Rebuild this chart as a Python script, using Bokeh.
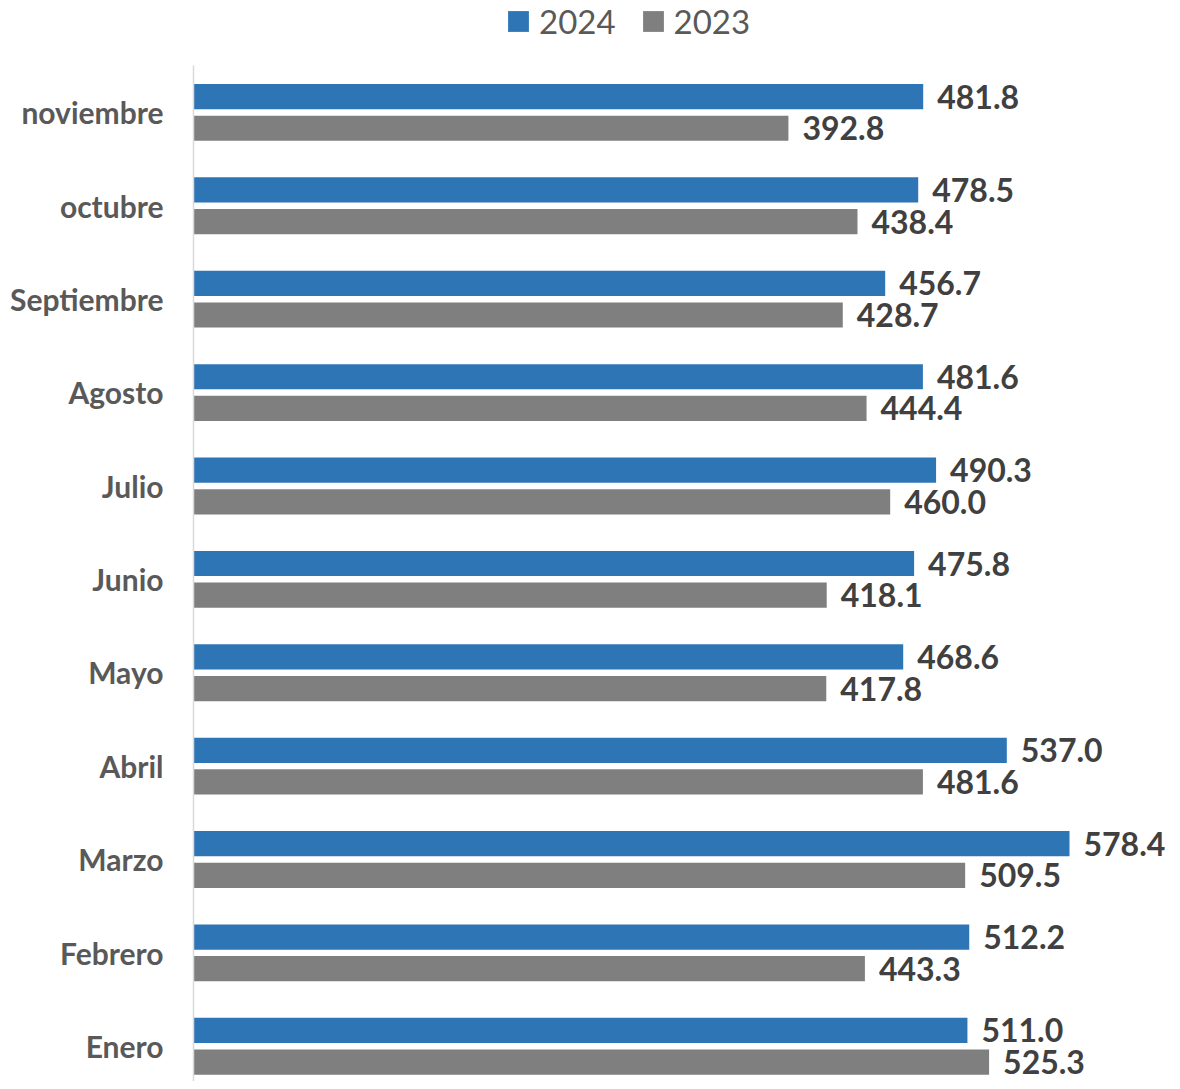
from bokeh.plotting import figure
from bokeh.layouts import column
from bokeh.models import (ColumnDataSource, Range1d, Legend, LegendItem, LabelSet,
                          FixedTicker)
from bokeh.transform import dodge
from bokeh.core.properties import value
from bokeh.embed import file_html
from bokeh.resources import INLINE

months = ["Enero", "Febrero", "Marzo", "Abril", "Mayo", "Junio", "Julio",
          "Agosto", "Septiembre", "octubre", "noviembre"]
v2024 = [511.0, 512.2, 578.4, 537.0, 468.6, 475.8, 490.3, 481.6, 456.7, 478.5, 481.8]
v2023 = [525.3, 443.3, 509.5, 481.6, 417.8, 418.1, 460.0, 444.4, 428.7, 438.4, 392.8]
series_names = ["2024", "2023"]

BLUE = "#2E75B6"
GRAY = "#7F7F7F"

pos = list(range(1, len(months) + 1))
src = ColumnDataSource(dict(
    y=pos, m=months, a=v2024, b=v2023,
    la=[f"{v:.1f}" for v in v2024],
    lb=[f"{v:.1f}" for v in v2023],
))

# ---- legend strip -------------------------------------------------------
lf = figure(width=1172, height=65, x_range=(0, 1), y_range=(0, 1),
            output_backend="svg", toolbar_location=None,
            min_border_left=0, min_border_right=0, min_border_top=0,
            min_border_bottom=0)
lf.axis.visible = False
lf.grid.visible = False
lf.outline_line_color = None
# legend swatches only (zero-area bars, nothing drawn in the strip)
la_r = lf.hbar(y="a", left="a", right="a", height=0, source=src,
               color=BLUE, line_color=None)
lb_r = lf.hbar(y="b", left="b", right="b", height=0, source=src,
               color=GRAY, line_color=None)
legend = Legend(items=[LegendItem(label=series_names[0], renderers=[la_r]),
                       LegendItem(label=series_names[1], renderers=[lb_r])],
                orientation="horizontal", location=(312, 24),
                glyph_width=26, glyph_height=26, label_standoff=8, spacing=24,
                padding=0, margin=0, border_line_color=None,
                background_fill_alpha=0,
                label_text_font="Lato", label_text_font_size="33px",
                label_text_color="#595959")
lf.add_layout(legend, "center")

# ---- main chart ---------------------------------------------------------
p = figure(width=1172, height=1016, y_range=Range1d(0.62, 11.5),
           x_range=Range1d(0, 646.4),
           output_backend="svg", toolbar_location=None,
           min_border_left=193, min_border_right=0, min_border_top=0,
           min_border_bottom=0)

OFF_A, OFF_B, H = 0.167, -0.172, 0.27
p.hbar(y=dodge("y", OFF_A), right="a", left=0, height=H,
       source=src, color=BLUE, line_color=None)
p.hbar(y=dodge("y", OFF_B), right="b", left=0, height=H,
       source=src, color=GRAY, line_color=None)

for col, lab, off in (("a", "la", OFF_A), ("b", "lb", OFF_B)):
    ls = LabelSet(x=col, y=dodge("y", off), text=lab, source=src,
                  x_offset=14, text_baseline="middle", text_align="left",
                  text_font=value("Lato"), text_font_style="bold",
                  text_font_size="32px", text_color="#404040")
    p.add_layout(ls)

p.xaxis.visible = False
p.grid.visible = False
p.outline_line_color = None
p.background_fill_color = "white"

ya = p.yaxis[0]
ya.ticker = FixedTicker(ticks=pos)
ya.major_label_overrides = {k: m for k, m in zip(pos, months)}
ya.axis_line_color = "#D9D9D9"
ya.axis_line_width = 1.5
ya.major_tick_line_color = None
ya.minor_tick_line_color = None
ya.major_tick_out = 0
ya.major_label_standoff = 30
ya.major_label_text_font = "Lato"
ya.major_label_text_font_style = "bold"
ya.major_label_text_font_size = "30px"
ya.major_label_text_color = "#595959"

layout = column(lf, p, spacing=0)
open("out.html", "w").write(file_html(layout, INLINE))
